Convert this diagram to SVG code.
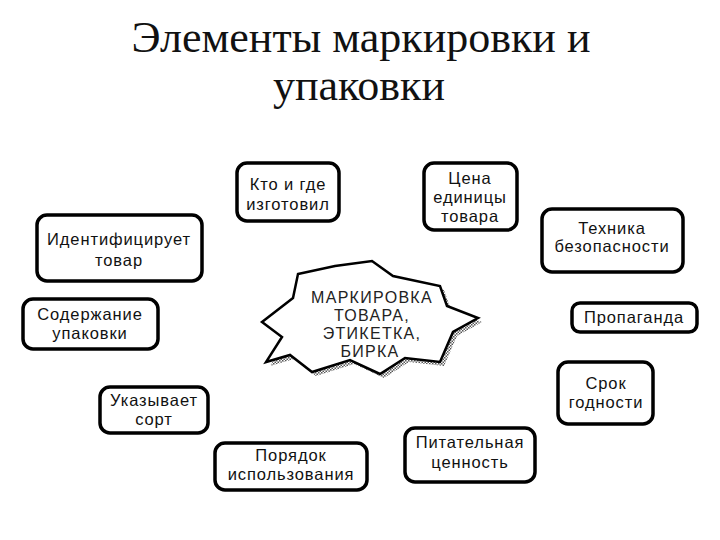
<svg xmlns="http://www.w3.org/2000/svg" width="720" height="540" viewBox="0 0 720 540">
<style>
.title{font-family:"Liberation Serif","Times New Roman",serif;font-size:44px;fill:#111;text-anchor:middle}
.box{fill:#fff;stroke:#000;stroke-width:3.5}
.lbl{font-family:"Liberation Sans",Arial,sans-serif;font-size:16.5px;letter-spacing:0.9px;fill:#111;text-anchor:middle}
.star{fill:#fff;stroke:#000;stroke-width:2.5;stroke-linejoin:miter}
.stxt{font-family:"Liberation Sans",Arial,sans-serif;font-size:16px;letter-spacing:1.3px;fill:#222;text-anchor:middle}
</style>
<defs>
<pattern id="hatch" width="3" height="3" patternUnits="userSpaceOnUse">
<rect width="3" height="3" fill="#fff"/>
<rect width="1.5" height="1.5" fill="#555"/>
<rect x="1.5" y="1.5" width="1.5" height="1.5" fill="#555"/>
</pattern>
</defs>
<rect width="720" height="540" fill="#fff"/>
<g id="title">
<text class="title" x="361" y="52">Элементы маркировки и</text>
<text class="title" x="359" y="100">упаковки</text>
</g>
<g id="center">
<polygon fill="url(#hatch)" points="302,278 339,270 376,265 397,280 444,290 451,310 482,322 457,336 444,366 409,362 384,378 354,364 316,376 294,359 270,366 286,341 266,326 297,302"/>
<polygon class="star" points="298,274 335,266 372,261 393,276 440,286 447,306 478,318 453,332 440,362 405,358 380,374 350,360 312,372 290,355 266,362 282,337 262,322 293,298"/>
<text class="stxt" x="372" y="303">МАРКИРОВКА</text>
<text class="stxt" x="372" y="321">ТОВАРА,</text>
<text class="stxt" x="372" y="339">ЭТИКЕТКА,</text>
<text class="stxt" x="370" y="357">БИРКА</text>
</g>
<g id="n1">
<rect class="box" x="237" y="163" width="102" height="58" rx="10"/>
<text class="lbl" x="288" y="190">Кто и где</text>
<text class="lbl" x="288" y="210">изготовил</text>
</g>
<g id="n2">
<rect class="box" x="424" y="163" width="93" height="67" rx="10"/>
<text class="lbl" x="470" y="184">Цена</text>
<text class="lbl" x="470" y="203">единицы</text>
<text class="lbl" x="470" y="222">товара</text>
</g>
<g id="n3">
<rect class="box" x="37" y="215" width="165" height="66" rx="10"/>
<text class="lbl" x="119" y="245">Идентифицирует</text>
<text class="lbl" x="119" y="266">товар</text>
</g>
<g id="n4">
<rect class="box" x="23" y="299" width="135" height="50" rx="10"/>
<text class="lbl" x="90" y="320">Содержание</text>
<text class="lbl" x="90" y="339">упаковки</text>
</g>
<g id="n5">
<rect class="box" x="542" y="209" width="141" height="63" rx="10"/>
<text class="lbl" x="612" y="234">Техника</text>
<text class="lbl" x="612" y="252">безопасности</text>
</g>
<g id="n6">
<rect class="box" x="572" y="303" width="125" height="29" rx="8"/>
<text class="lbl" x="634" y="323">Пропаганда</text>
</g>
<g id="n7">
<rect class="box" x="558" y="362" width="95" height="62" rx="10"/>
<text class="lbl" x="606" y="389">Срок</text>
<text class="lbl" x="606" y="408">годности</text>
</g>
<g id="n8">
<rect class="box" x="100" y="387" width="108" height="46" rx="10"/>
<text class="lbl" x="154" y="406">Указывает</text>
<text class="lbl" x="154" y="425">сорт</text>
</g>
<g id="n9">
<rect class="box" x="215" y="443" width="152" height="47" rx="10"/>
<text class="lbl" x="291" y="461">Порядок</text>
<text class="lbl" x="291" y="480">использования</text>
</g>
<g id="n10">
<rect class="box" x="405" y="428" width="130" height="54" rx="10"/>
<text class="lbl" x="470" y="448">Питательная</text>
<text class="lbl" x="470" y="468">ценность</text>
</g>
</svg>
